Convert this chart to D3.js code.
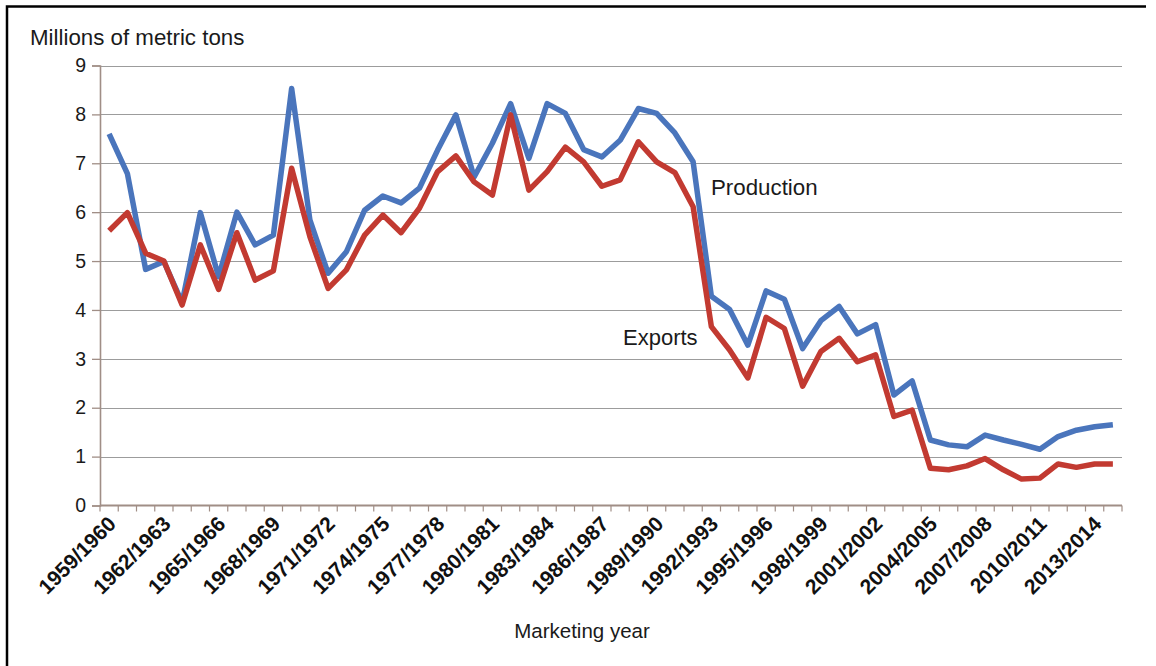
<!DOCTYPE html>
<html>
<head>
<meta charset="utf-8">
<script src="https://cdn.jsdelivr.net/npm/d3@7"></script>
<style>
  html, body { margin: 0; padding: 0; background: #fff; }
  svg { display: block; font-family: "Liberation Sans", Arial, Helvetica, sans-serif; }
</style>
</head>
<body>
<svg id="chart" width="1156" height="666"></svg>
<script>
const categories = [
  "1959/1960","1960/1961","1961/1962","1962/1963","1963/1964","1964/1965","1965/1966","1966/1967",
  "1967/1968","1968/1969","1969/1970","1970/1971","1971/1972","1972/1973","1973/1974","1974/1975",
  "1975/1976","1976/1977","1977/1978","1978/1979","1979/1980","1980/1981","1981/1982","1982/1983",
  "1983/1984","1984/1985","1985/1986","1986/1987","1987/1988","1988/1989","1989/1990","1990/1991",
  "1991/1992","1992/1993","1993/1994","1994/1995","1995/1996","1996/1997","1997/1998","1998/1999",
  "1999/2000","2000/2001","2001/2002","2002/2003","2003/2004","2004/2005","2005/2006","2006/2007",
  "2007/2008","2008/2009","2009/2010","2010/2011","2011/2012","2012/2013","2013/2014","2014/2015"
];
const production = [7.6, 6.79, 4.83, 4.99, 4.15, 5.99, 4.68, 6.0, 5.33, 5.53, 8.53, 5.84, 4.75, 5.19,
  6.04, 6.33, 6.19, 6.49, 7.27, 7.99, 6.72, 7.41, 8.22, 7.1, 8.22, 8.02, 7.28, 7.13, 7.47, 8.12, 8.02,
  7.62, 7.03, 4.28, 4.01, 3.28, 4.39, 4.22, 3.21, 3.78, 4.07, 3.51, 3.7, 2.26, 2.55, 1.34, 1.24, 1.2,
  1.44, 1.34, 1.25, 1.15, 1.41, 1.54, 1.61, 1.65];
const exportsData = [5.62, 5.99, 5.16, 5.0, 4.1, 5.33, 4.42, 5.58, 4.61, 4.8, 6.9, 5.5, 4.44, 4.82,
  5.53, 5.94, 5.58, 6.08, 6.83, 7.15, 6.62, 6.35, 7.99, 6.45, 6.83, 7.33, 7.03, 6.53, 6.66, 7.44, 7.03,
  6.81, 6.11, 3.66, 3.18, 2.61, 3.85, 3.62, 2.44, 3.15, 3.42, 2.94, 3.08, 1.82, 1.95, 0.76, 0.73, 0.81,
  0.96, 0.73, 0.54, 0.56, 0.85, 0.78, 0.85, 0.85];
const xTickLabels = ["1959/1960","1962/1963","1965/1966","1968/1969","1971/1972","1974/1975",
  "1977/1978","1980/1981","1983/1984","1986/1987","1989/1990","1992/1993","1995/1996","1998/1999",
  "2001/2002","2004/2005","2007/2008","2010/2011","2013/2014"];
const yTicks = [0,1,2,3,4,5,6,7,8,9];

const svg = d3.select("#chart");
const plotL = 100, plotR = 1122, plotT = 65.5, plotB = 505.5;
const x = d3.scaleBand().domain(categories).range([plotL, plotR]).padding(0);
const y = d3.scaleLinear().domain([0, 9]).range([plotB, plotT]);
const cx = c => x(c) + x.bandwidth() / 2;

// frame
svg.append("path").attr("d", `M7,670 L7,6.5 L1146,6.5`)
  .attr("fill", "none").attr("stroke", "#000").attr("stroke-width", 2.5);

// gridlines
svg.append("g").selectAll("line").data(yTicks.filter(d => d > 0)).join("line")
  .attr("x1", plotL).attr("x2", plotR)
  .attr("y1", d => Math.round(y(d)) + 0.5).attr("y2", d => Math.round(y(d)) + 0.5)
  .attr("stroke", "#9c9c9c").attr("stroke-width", 1.2);

// y axis
const yAxis = svg.append("g").attr("transform", `translate(${plotL},0)`)
  .call(d3.axisLeft(y).tickValues(yTicks).tickSize(8).tickPadding(6).tickFormat(d3.format("d")));
yAxis.select(".domain").attr("stroke", "#a08e86").attr("stroke-width", 1.6);
yAxis.selectAll(".tick line").attr("stroke", "#a08e86").attr("stroke-width", 1.3);
yAxis.selectAll(".tick text").attr("font-size", 19.5).attr("fill", "#1a1a1a")
  .attr("font-family", "Liberation Sans, Arial, sans-serif");

// x axis line + boundary ticks
const xg = svg.append("g");
xg.append("line").attr("x1", plotL).attr("x2", plotR).attr("y1", plotB).attr("y2", plotB)
  .attr("stroke", "#a08e86").attr("stroke-width", 1.8);
const boundaries = categories.map(c => x(c)).concat([plotR]);
xg.selectAll("line.tk").data(boundaries).join("line").attr("class", "tk")
  .attr("x1", d => d).attr("x2", d => d).attr("y1", plotB).attr("y2", plotB + 6)
  .attr("stroke", "#a08e86").attr("stroke-width", 1.2);

// x tick labels
xg.selectAll("text.xl").data(xTickLabels).join("text").attr("class", "xl")
  .attr("transform", d => `translate(${cx(d) + 3},520) rotate(-45)`)
  .attr("text-anchor", "end").attr("dy", "0.35em")
  .attr("font-size", 21).attr("font-weight", "bold").attr("fill", "#111")
  .text(d => d);

// lines
const line = d3.line().x((d, i) => cx(categories[i])).y(d => y(d));
svg.append("path").datum(production).attr("d", line)
  .attr("fill", "none").attr("stroke", "#4a75bc").attr("stroke-width", 5.5)
  .attr("stroke-linejoin", "round").attr("stroke-linecap", "butt");
svg.append("path").datum(exportsData).attr("d", line)
  .attr("fill", "none").attr("stroke", "#c23a31").attr("stroke-width", 5.5)
  .attr("stroke-linejoin", "round").attr("stroke-linecap", "butt");

// texts
svg.append("text").attr("x", 30).attr("y", 45).attr("font-size", 22.3).attr("fill", "#1a1a1a")
  .text("Millions of metric tons");
svg.append("text").attr("x", 711).attr("y", 195).attr("font-size", 22.3).attr("fill", "#1a1a1a")
  .text("Production");
svg.append("text").attr("x", 623).attr("y", 345).attr("font-size", 22).attr("fill", "#1a1a1a")
  .text("Exports");
svg.append("text").attr("x", 582).attr("y", 638).attr("text-anchor", "middle")
  .attr("font-size", 20.5).attr("fill", "#1a1a1a").text("Marketing year");
</script>
</body>
</html>
